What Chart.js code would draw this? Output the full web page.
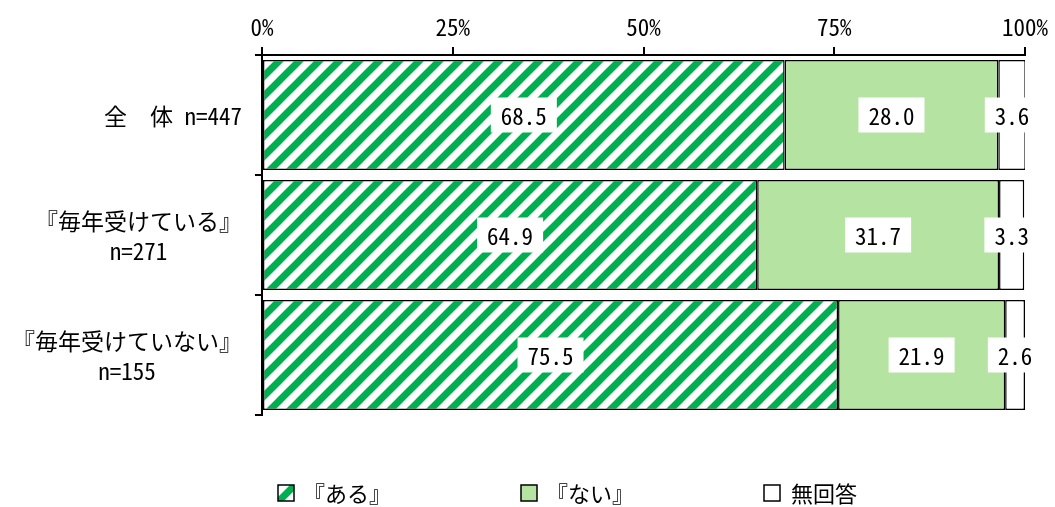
<!DOCTYPE html>
<html>
<head>
<meta charset="utf-8">
<script src="https://cdn.jsdelivr.net/npm/chart.js@4.4.1/dist/chart.umd.min.js"></script>
<style>
  html, body { margin: 0; padding: 0; background: #fff; }
  #wrap { width: 1055px; height: 507px; }
</style>
</head>
<body>
<div id="wrap"><canvas id="c" width="1055" height="507"></canvas></div>
<script>
// Categories (multi-line labels) and the three answer series, in percent
const categories = [
  ['全　体 n=447'],
  ['『毎年受けている』', 'n=271'],
  ['『毎年受けていない』', 'n=155']
];
const seriesNames = ['『ある』', '『ない』', '無回答'];
const aruValues = [68.5, 64.9, 75.5];
const naiValues = [28.0, 31.7, 21.9];
const noAnswerValues = [3.6, 3.3, 2.6];
const tickValues = [0, 25, 50, 75, 100];

const FONT = '"Noto Sans Mono CJK JP", "Noto Sans CJK JP", monospace';
const GREEN = '#00B050';
const LIGHT_GREEN = '#B5E3A2';

const canvas = document.getElementById('c');
const ctx0 = canvas.getContext('2d');

// Diagonal "/" stripe fill for the 『ある』 series
function makeHatch() {
  const s = 20;
  const tile = document.createElement('canvas');
  tile.width = s; tile.height = s;
  const g = tile.getContext('2d');
  g.fillStyle = '#fff';
  g.fillRect(0, 0, s, s);
  g.strokeStyle = GREEN;
  g.lineWidth = 7;
  for (const x0 of [-s, 0, s]) {
    g.beginPath();
    g.moveTo(x0 - 5, s + 5);
    g.lineTo(x0 + s + 5, -5);
    g.stroke();
  }
  return ctx0.createPattern(tile, 'repeat');
}
const hatch = makeHatch();

// White boxed value labels centred on each bar segment
const valueLabels = {
  id: 'valueLabels',
  afterDatasetsDraw(chart) {
    const ctx = chart.ctx;
    ctx.save();
    ctx.font = '23px ' + FONT;
    ctx.textAlign = 'center';
    ctx.textBaseline = 'middle';
    chart.data.datasets.forEach((ds, di) => {
      const meta = chart.getDatasetMeta(di);
      meta.data.forEach((bar, i) => {
        const v = ds.data[i];
        const p = bar.getProps(['x', 'y', 'base'], true);
        const cx = (p.x + p.base) / 2;
        const text = v.toFixed(1);
        const w = ctx.measureText(text).width;
        const bw = w + 20, bh = 35;
        ctx.fillStyle = '#fff';
        ctx.fillRect(cx - bw / 2, p.y - bh / 2, bw, bh);
        ctx.fillStyle = '#000';
        ctx.fillText(text, cx, p.y + 1);
      });
    });
    ctx.restore();
  }
};

// Category labels: each block right-aligned to the axis, lines centred within it
const categoryLabels = {
  id: 'categoryLabels',
  afterDraw(chart) {
    const ctx = chart.ctx;
    const yScale = chart.scales.y;
    ctx.save();
    ctx.font = '23px ' + FONT;
    ctx.fillStyle = '#000';
    ctx.textAlign = 'center';
    ctx.textBaseline = 'middle';
    const right = chart.chartArea.left - 20;
    const lh = 30;
    chart.data.labels.forEach((lines, i) => {
      const cy = yScale.getPixelForValue(i);
      const bw = Math.max(...lines.map(l => ctx.measureText(l).width));
      lines.forEach((l, k) => {
        ctx.fillText(l, right - bw / 2, cy + (k - (lines.length - 1) / 2) * lh + 1);
      });
    });
    ctx.restore();
  }
};

// Legend row under the plot
const bottomLegend = {
  id: 'bottomLegend',
  afterDraw(chart) {
    const ctx = chart.ctx;
    const area = chart.chartArea;
    ctx.save();
    ctx.font = '22px ' + FONT;
    ctx.textAlign = 'left';
    ctx.textBaseline = 'middle';
    const cy = 493;
    const box = 16;
    chart.data.datasets.forEach((ds, di) => {
      const x = area.left + 16 + di * 243;
      ctx.fillStyle = ds.backgroundColor;
      ctx.fillRect(x, cy - box / 2, box, box);
      ctx.strokeStyle = '#000';
      ctx.lineWidth = 1.5;
      ctx.strokeRect(x, cy - box / 2, box, box);
      ctx.fillStyle = '#000';
      ctx.fillText(ds.label, x + (di === 2 ? 27 : 25), cy + 1);
    });
    ctx.restore();
  }
};

const barCommon = {
  borderColor: '#000',
  borderWidth: 1.5,
  borderSkipped: false,
  barPercentage: 0.915,
  categoryPercentage: 1.0
};

new Chart(canvas, {
  type: 'bar',
  data: {
    labels: categories,
    datasets: [
      Object.assign({ label: seriesNames[0], data: aruValues, backgroundColor: hatch }, barCommon),
      Object.assign({ label: seriesNames[1], data: naiValues, backgroundColor: LIGHT_GREEN }, barCommon),
      Object.assign({ label: seriesNames[2], data: noAnswerValues, backgroundColor: '#fff' }, barCommon)
    ]
  },
  options: {
    indexAxis: 'y',
    responsive: false,
    animation: false,
    devicePixelRatio: 1,
    layout: { padding: { left: 0, right: 30, top: 0, bottom: 92 } },
    plugins: {
      legend: { display: false },
      tooltip: { enabled: false }
    },
    scales: {
      x: {
        position: 'top',
        stacked: true,
        min: 0,
        max: 100,
        afterBuildTicks: s => { s.ticks = tickValues.map(v => ({ value: v })); },
        afterFit: s => { s.height = 55; },
        ticks: {
          callback: v => v + '%',
          font: { family: FONT, size: 23 },
          color: '#000',
          padding: 6,
          maxRotation: 0,
          autoSkip: false
        },
        grid: { drawOnChartArea: false, drawTicks: true, tickLength: 8, color: '#000', lineWidth: 2 },
        border: { display: true, color: '#000', width: 2 }
      },
      y: {
        stacked: true,
        afterFit: s => { s.width = 262; },
        ticks: { display: false },
        grid: { drawOnChartArea: false, drawTicks: true, tickLength: 7, color: '#000', lineWidth: 2, offset: true },
        border: { display: true, color: '#000', width: 2 }
      }
    }
  },
  plugins: [valueLabels, categoryLabels, bottomLegend]
});
</script>
</body>
</html>
